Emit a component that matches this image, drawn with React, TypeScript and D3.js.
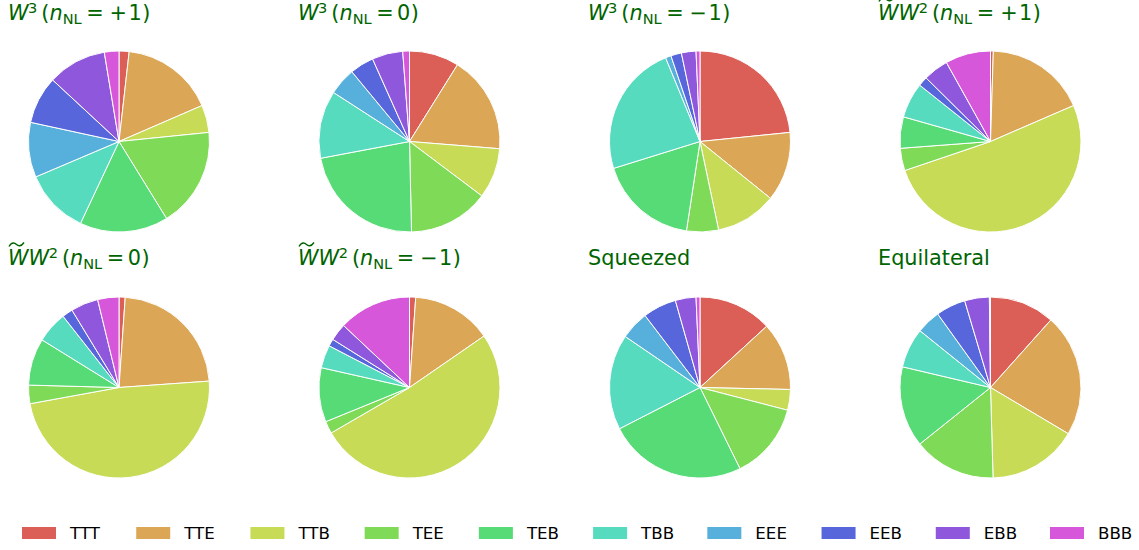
import React from "react";
import * as d3 from "d3";

const categories = ["TTT", "TTE", "TTB", "TEE", "TEB", "TBB", "EEE", "EEB", "EBB", "BBB"];

const w3Plus = [1.8, 16.7, 4.9, 17.8, 15.8, 11.6, 9.8, 8.5, 10.5, 2.6];
const w3Zero = [8.9, 17.4, 9.0, 14.4, 22.4, 12.1, 4.9, 4.3, 5.5, 1.2];
const w3Minus = [23.4, 12.4, 10.9, 5.7, 17.8, 23.6, 1.0, 1.9, 2.6, 0.7];
const wwPlus = [0.5, 18.0, 51.3, 4.0, 5.6, 6.3, 0, 1.7, 4.5, 8.1];
const wwZero = [1.1, 22.8, 48.3, 3.3, 8.4, 5.6, 0, 1.9, 4.9, 3.8];
const wwMinus = [1.1, 14.3, 51.3, 2.2, 9.7, 4.1, 0, 1.3, 3.1, 13.0];
const squeezed = [13.2, 12.2, 3.7, 13.7, 24.8, 17.1, 5.1, 6.0, 3.7, 0.7];
const equilateral = [11.6, 21.9, 16.0, 14.7, 14.4, 7.1, 4.3, 5.3, 4.4, 0.2];

const panelSeries = [w3Plus, w3Zero, w3Minus, wwPlus, wwZero, wwMinus, squeezed, equilateral];
const panelKinds = ["W3", "W3", "W3", "WW2", "WW2", "WW2", "plain", "plain"];
const panelNNL = ["+1", "0", "-1", "+1", "0", "-1", "", ""];
const panelPlain = ["", "", "", "", "", "", "Squeezed", "Equilateral"];

const W = 1139;
const H = 550;
const FONT = "DejaVu Sans";
const TITLE_COLOR = "#006400";
const TF = 20.8;

const palette = d3.range(11).map((i) => d3.hsl(((0.01 + i / 11) % 1) * 360, 0.65, 0.6).formatHex());
const color = d3.scaleOrdinal<string, string>().domain(categories).range(palette.slice(0, 10));

const colX = d3.scaleLinear().domain([0, 3]).range([119, 990.5]);
const rowY = d3.scaleLinear().domain([0, 1]).range([141.5, 387.5]);
const titleX = d3.scaleLinear().domain([0, 3]).range([8, 878]);
const titleY = d3.scaleLinear().domain([0, 1]).range([20, 265]);
const legendX = d3.scaleLinear().domain([0, 9]).range([22, 1050]);
const R = 90.5;

const pie = d3.pie<number>().sort(null).value((d) => d);
const arc = d3.arc<d3.PieArcDatum<number>>().innerRadius(0).outerRadius(R);

function Title({ kind, nnl, plain, x, y }: { kind: string; nnl: string; plain: string; x: number; y: number }) {
  if (kind === "plain") {
    return (
      <text x={x} y={y} fill={TITLE_COLOR} fontFamily={FONT} fontSize={TF}>
        {plain}
      </text>
    );
  }
  const sup = kind === "W3" ? "3" : "2";
  const big = nnl !== "0";
  const sign = nnl.startsWith("-") ? "\u2212" : "+";
  const num = nnl.replace("+", "").replace("-", "");
  return (
    <g>
      {kind === "WW2" && (
        <path
          d={`M${x + 1},${y - 18.5} C${x + 4},${y - 23.5} ${x + 7},${y - 22} ${x + 8.5},${y - 20.5} S${x + 13},${y - 18} ${x + 16},${y - 22.5}`}
          fill="none"
          stroke={TITLE_COLOR}
          strokeWidth={1.4}
        />
      )}
      <text x={x} y={y} fill={TITLE_COLOR} fontFamily={FONT} fontSize={TF}>
        <tspan fontStyle="italic">W</tspan>
        {kind === "WW2" && <tspan fontStyle="italic">W</tspan>}
        <tspan fontSize={TF * 0.7} dy={-7} dx={-0.5}>{sup}</tspan>
        <tspan dy={7} dx={4}>(</tspan>
        <tspan fontStyle="italic">n</tspan>
        <tspan fontSize={TF * 0.7} dy={4}>NL</tspan>
        <tspan dy={-4} dx={4.5}>=</tspan>
        {big ? (
          <>
            <tspan dx={6}>{sign}</tspan>
            <tspan dx={1.5}>{num}</tspan>
          </>
        ) : (
          <tspan dx={3.5}>{num}</tspan>
        )}
        <tspan dx={0.5}>)</tspan>
      </text>
    </g>
  );
}

export default function App() {
  return (
    <svg
      width={W}
      height={H}
      viewBox={`0 0 ${W} ${H}`}
      style={{ position: "absolute", left: 0, top: 0, background: "#fff" }}
    >
      <rect x={0} y={0} width={W} height={H} fill="#fff" />
      {panelSeries.map((vals, p) => {
        const col = p % 4;
        const row = Math.floor(p / 4);
        const arcs = pie(vals);
        return (
          <g key={p}>
            <Title
              kind={panelKinds[p]}
              nnl={panelNNL[p]}
              plain={panelPlain[p]}
              x={titleX(col)}
              y={titleY(row)}
            />
            <g transform={`translate(${colX(col)},${rowY(row)})`}>
              {arcs.map((a, i) =>
                a.value > 0 ? (
                  <path key={i} d={arc(a) || ""} fill={color(categories[i])} stroke="#fff" strokeWidth={1} strokeLinejoin="round" />
                ) : null
              )}
            </g>
          </g>
        );
      })}
      {categories.map((c, i) => (
        <g key={c} transform={`translate(${legendX(i)},0)`}>
          <rect x={0} y={527} width={34} height={12} fill={color(c)} />
          <text x={48} y={539} fontFamily={FONT} fontSize={16.67} fill="#000">
            {c}
          </text>
        </g>
      ))}
    </svg>
  );
}
